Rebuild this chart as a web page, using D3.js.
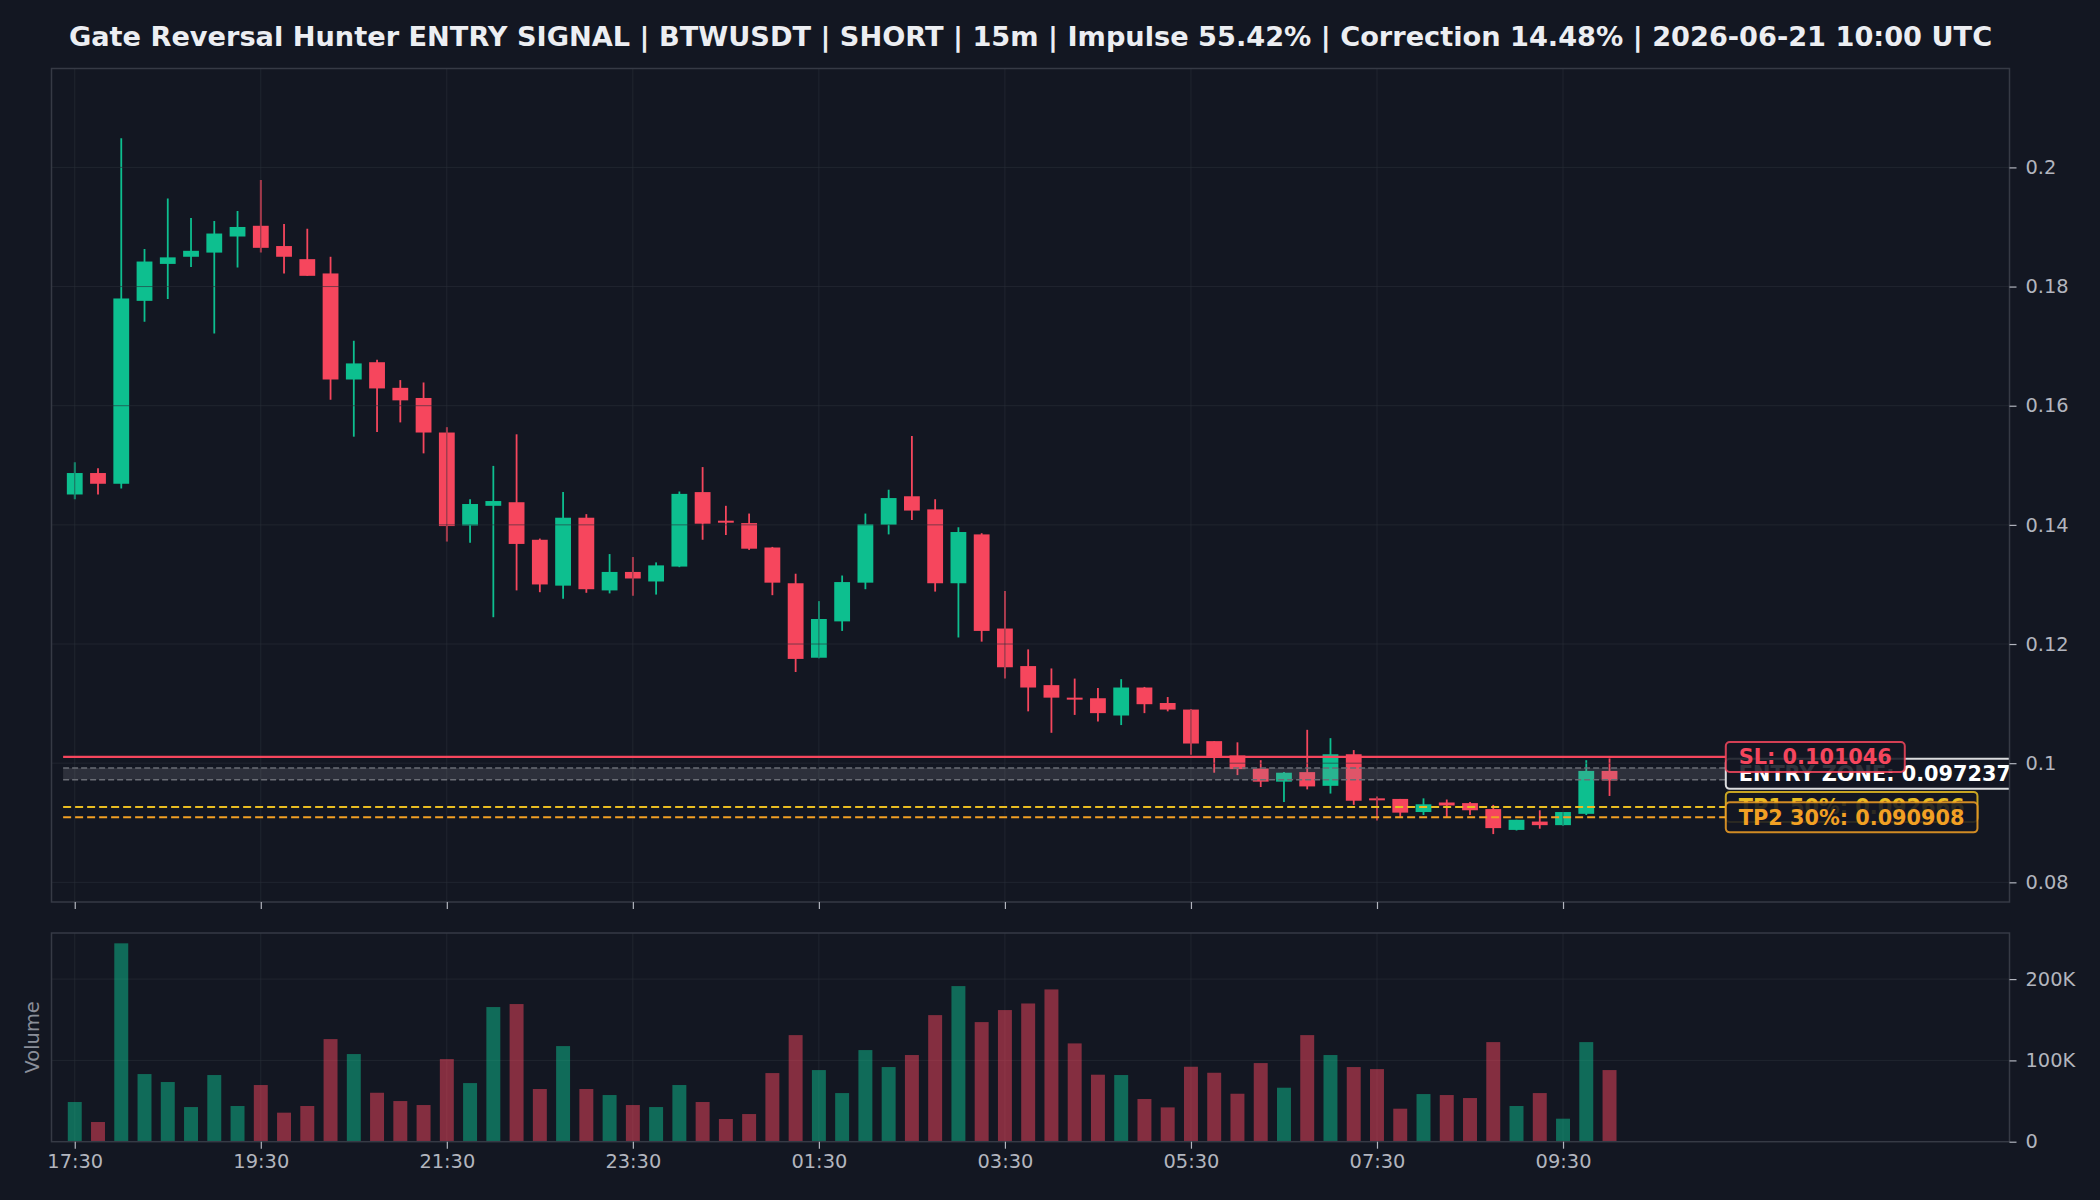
<!DOCTYPE html>
<html>
<head>
<meta charset="utf-8">
<script src="https://cdn.jsdelivr.net/npm/d3@7/dist/d3.min.js"></script>
<style>
body { margin: 0; background: #131722; }
svg text { font-family: "DejaVu Sans", sans-serif; }
</style>
</head>
<body>
<div class="svg-container"></div>
<script>
// ---- data ----
var title_text = "Gate Reversal Hunter ENTRY SIGNAL | BTWUSDT | SHORT | 15m | Impulse 55.42% | Correction 14.48% | 2026-06-21 10:00 UTC";

var opens  = [0.1451,0.1487,0.1469,0.1776,0.1838,0.1850,0.1857,0.1884,0.1902,0.1868,
              0.1846,0.1822,0.1644,0.1673,0.1630,0.1613,0.1555,0.1399,0.1432,0.1438,
              0.1375,0.1298,0.1412,0.1290,0.1321,0.1305,0.1330,0.1455,0.1407,0.1403,
              0.1362,0.1302,0.1177,0.1238,0.1303,0.1400,0.1448,0.1426,0.1302,0.1384,
              0.1226,0.1163,0.1131,0.1110,0.1109,0.1080,0.1127,0.1101,0.1090,0.1037,
              0.1013,0.0991,0.0969,0.0985,0.0962,0.1015,0.0941,0.0940,0.0918,0.0934,
              0.0933,0.0923,0.0888,0.0902,0.0896,0.0915,0.0987];
var highs  = [0.1505,0.1495,0.2049,0.1863,0.1948,0.1915,0.1910,0.1927,0.1979,0.1905,
              0.1897,0.1850,0.1709,0.1677,0.1643,0.1639,0.1564,0.1443,0.1499,0.1552,
              0.1377,0.1455,0.1418,0.1351,0.1346,0.1337,0.1456,0.1497,0.1432,0.1419,
              0.1363,0.1318,0.1272,0.1315,0.1419,0.1459,0.1549,0.1443,0.1396,0.1386,
              0.1289,0.1191,0.1159,0.1142,0.1126,0.1141,0.1128,0.1111,0.1091,0.1037,
              0.1035,0.1005,0.0985,0.1056,0.1042,0.1022,0.0944,0.0940,0.0941,0.0939,
              0.0935,0.0930,0.0905,0.0921,0.0918,0.1005,0.1008];
var lows   = [0.1443,0.1451,0.1461,0.1741,0.1779,0.1833,0.1721,0.1832,0.1857,0.1822,
              0.1818,0.1610,0.1548,0.1556,0.1572,0.1520,0.1372,0.1370,0.1245,0.1290,
              0.1287,0.1276,0.1286,0.1285,0.1281,0.1283,0.1329,0.1375,0.1383,0.1358,
              0.1282,0.1153,0.1176,0.1222,0.1292,0.1384,0.1408,0.1288,0.1211,0.1204,
              0.1142,0.1087,0.1051,0.1081,0.1070,0.1064,0.1084,0.1087,0.1014,0.0984,
              0.0980,0.0960,0.0935,0.0956,0.0949,0.0930,0.0904,0.0909,0.0913,0.0909,
              0.0913,0.0881,0.0887,0.0890,0.0895,0.0913,0.0945];
var closes = [0.1487,0.1469,0.1780,0.1842,0.1849,0.1860,0.1889,0.1900,0.1865,0.1850,
              0.1818,0.1644,0.1671,0.1629,0.1609,0.1555,0.1398,0.1435,0.1440,0.1368,
              0.1300,0.1412,0.1292,0.1321,0.1310,0.1332,0.1452,0.1402,0.1404,0.1360,
              0.1303,0.1175,0.1242,0.1304,0.1401,0.1445,0.1424,0.1302,0.1388,0.1222,
              0.1161,0.1127,0.1110,0.1107,0.1084,0.1127,0.1099,0.1090,0.1033,0.1011,
              0.0990,0.0969,0.0984,0.0961,0.1015,0.0937,0.0938,0.0917,0.0931,0.0929,
              0.0921,0.0891,0.0905,0.0896,0.0918,0.0987,0.0971];
var volumes = [48800,24200,244000,83200,73400,42600,82000,43900,69700,35700,
               43900,126200,107800,60200,50000,45100,101600,72100,165600,169300,
               64800,117600,64800,57400,45100,42600,69700,48800,27900,34000,
               84400,131100,88100,59800,112700,91800,106600,155700,191400,147100,
               161900,170000,187300,120900,82400,82000,52500,42200,92200,84800,
               59000,96700,66400,131100,106600,91800,89300,40600,58600,57400,
               53700,122500,43900,59800,28300,122500,88100];

var time_labels = ["17:30","19:30","21:30","23:30","01:30","03:30","05:30","07:30","09:30"];
var candles_per_label = 8;
var price_ticks = [0.08, 0.10, 0.12, 0.14, 0.16, 0.18, 0.20];
var volume_ticks = [0, 100000, 200000];
var volume_tick_labels = ["0", "100K", "200K"];

var sl_price = 0.101046;
var entry_price = 0.097237;
var entry_zone_top = 0.09918;
var tp1_price = 0.092666;
var tp2_price = 0.090908;

// ---- look ----
var bg = "#131722",
    up_color = "#0dbf8f",
    down_color = "#f6465d",
    grid_color = "#2a2e39",
    border_color = "#363a45",
    tick_color = "#b2b5be",
    tp1_color = "#e9bd22",
    tp2_color = "#f2a024";

var fullWidth = 2100, fullHeight = 1200;
var main = {left: 51.5, right: 2009.5, top: 68.5, bottom: 902};
var vol  = {left: 51.5, right: 2009.5, top: 933, bottom: 1141.7};

var n = closes.length;

var svg = d3.select(".svg-container")
    .append("svg")
    .attr("width", fullWidth)
    .attr("height", fullHeight)
    .style("background", bg);

var x = d3.scaleLinear().domain([-1, 83.2]).range([main.left, main.right]);
var y = d3.scaleLinear().domain([0.0767, 0.2166]).range([main.bottom, main.top]);
var yv = d3.scaleLinear().domain([0, 256700]).range([vol.bottom, vol.top]);

var tick_idx = time_labels.map((d, i) => i * candles_per_label);
var candle_w = 0.68 * (x(1) - x(0));
var vol_w = 0.6 * (x(1) - x(0));

function is_up(i) { return closes[i] >= opens[i]; }

// title
svg.append("text")
    .attr("x", (main.left + main.right) / 2)
    .attr("y", 36)
    .attr("dy", "0.35em")
    .attr("text-anchor", "middle")
    .attr("font-size", 27.2)
    .attr("font-weight", "bold")
    .attr("fill", "#eceef2")
    .text(title_text);

// clip for the price panel
svg.append("clipPath").attr("id", "main-clip")
    .append("rect")
    .attr("x", main.left).attr("y", main.top)
    .attr("width", main.right - main.left).attr("height", main.bottom - main.top);

var g_main = svg.append("g").attr("clip-path", "url(#main-clip)");

// candles
var idx = d3.range(n);
g_main.selectAll("line.wick")
    .data(idx)
    .enter()
    .append("line")
    .attr("class", "wick")
    .attr("x1", d => x(d)).attr("x2", d => x(d))
    .attr("y1", d => y(highs[d])).attr("y2", d => y(lows[d]))
    .attr("stroke", d => is_up(d) ? up_color : down_color)
    .attr("stroke-width", 1.8);

g_main.selectAll("rect.body")
    .data(idx)
    .enter()
    .append("rect")
    .attr("class", "body")
    .attr("x", d => x(d) - candle_w / 2)
    .attr("width", candle_w)
    .attr("y", d => y(Math.max(opens[d], closes[d])))
    .attr("height", d => Math.max(2, Math.abs(y(opens[d]) - y(closes[d]))))
    .attr("fill", d => is_up(d) ? up_color : down_color);

// grid (drawn over the candles, faint)
g_main.selectAll("line.hgrid")
    .data(price_ticks)
    .enter()
    .append("line")
    .attr("x1", main.left).attr("x2", main.right)
    .attr("y1", d => y(d)).attr("y2", d => y(d))
    .attr("stroke", grid_color).attr("stroke-opacity", 0.6).attr("stroke-width", 1);
g_main.selectAll("line.vgrid")
    .data(tick_idx)
    .enter()
    .append("line")
    .attr("x1", d => x(d)).attr("x2", d => x(d))
    .attr("y1", main.top).attr("y2", main.bottom)
    .attr("stroke", grid_color).attr("stroke-opacity", 0.6).attr("stroke-width", 1);

// entry zone band
var level_start = -0.5, level_end = 71;
g_main.append("rect")
    .attr("x", x(level_start))
    .attr("width", x(level_end) - x(level_start))
    .attr("y", y(entry_zone_top))
    .attr("height", y(entry_price) - y(entry_zone_top))
    .attr("fill", "#8c8f96")
    .attr("fill-opacity", 0.22);
[entry_zone_top, entry_price].forEach(function(v) {
    g_main.append("line")
        .attr("x1", x(level_start)).attr("x2", x(level_end))
        .attr("y1", y(v)).attr("y2", y(v))
        .attr("stroke", "#6a6d75").attr("stroke-width", 1.5)
        .attr("stroke-dasharray", "6,3");
});

// stop loss
g_main.append("line")
    .attr("x1", x(level_start)).attr("x2", x(level_end))
    .attr("y1", y(sl_price)).attr("y2", y(sl_price))
    .attr("stroke", down_color).attr("stroke-width", 2.2);

// take profits
[[tp1_price, tp1_color], [tp2_price, tp2_color]].forEach(function(t) {
    g_main.append("line")
        .attr("x1", x(level_start)).attr("x2", x(level_end))
        .attr("y1", y(t[0])).attr("y2", y(t[0]))
        .attr("stroke", t[1]).attr("stroke-width", 2)
        .attr("stroke-dasharray", "8,4");
});

// level labels (entry label sits at the middle of the zone)
var labels = [
    {text: "ENTRY ZONE: " + entry_price, value: (entry_price + entry_zone_top) / 2, color: "#ffffff"},
    {text: "SL: " + sl_price, value: sl_price, color: down_color},
    {text: "TP1 50%: " + tp1_price, value: tp1_price, color: tp1_color},
    {text: "TP2 30%: " + tp2_price, value: tp2_price, color: tp2_color}
];
var pad = 13;
labels.forEach(function(l) {
    var g = g_main.append("g");
    var box = g.append("rect");
    var t = g.append("text")
        .attr("x", x(level_end) + pad)
        .attr("y", y(l.value))
        .attr("dy", "0.36em")
        .attr("font-size", 20.8)
        .attr("font-weight", "bold")
        .attr("fill", l.color)
        .text(l.text);
    var w = t.node().getComputedTextLength();
    box.attr("x", x(level_end))
        .attr("y", y(l.value) - 15)
        .attr("width", w + 2 * pad)
        .attr("height", 30)
        .attr("rx", 4)
        .attr("fill", bg).attr("fill-opacity", 0.88)
        .attr("stroke", l.color).attr("stroke-opacity", 0.85).attr("stroke-width", 2);
});

// price panel border + axes
svg.append("rect")
    .attr("x", main.left).attr("y", main.top)
    .attr("width", main.right - main.left).attr("height", main.bottom - main.top)
    .attr("fill", "none").attr("stroke", border_color).attr("stroke-width", 1.5);

var y_axis = svg.append("g")
    .attr("transform", "translate(" + main.right + ",0)")
    .call(d3.axisRight(y).tickValues(price_ticks).tickFormat(d => +d.toFixed(2)).tickSize(7).tickPadding(9));

var x_axis_main = svg.append("g")
    .attr("transform", "translate(0," + main.bottom + ")")
    .call(d3.axisBottom(x).tickValues(tick_idx).tickFormat("").tickSize(7));

// volume panel
svg.selectAll("line.vhgrid")
    .data(volume_ticks.slice(1))
    .enter()
    .append("line")
    .attr("x1", vol.left).attr("x2", vol.right)
    .attr("y1", d => yv(d)).attr("y2", d => yv(d))
    .attr("stroke", grid_color).attr("stroke-opacity", 0.6);
svg.selectAll("line.vvgrid")
    .data(tick_idx)
    .enter()
    .append("line")
    .attr("x1", d => x(d)).attr("x2", d => x(d))
    .attr("y1", vol.top).attr("y2", vol.bottom)
    .attr("stroke", grid_color).attr("stroke-opacity", 0.6);

svg.selectAll("rect.vol")
    .data(idx)
    .enter()
    .append("rect")
    .attr("class", "vol")
    .attr("x", d => x(d) - vol_w / 2)
    .attr("width", vol_w)
    .attr("y", d => yv(volumes[d]))
    .attr("height", d => yv(0) - yv(volumes[d]))
    .attr("fill", d => is_up(d) ? up_color : down_color)
    .attr("fill-opacity", 0.5);

svg.append("rect")
    .attr("x", vol.left).attr("y", vol.top)
    .attr("width", vol.right - vol.left).attr("height", vol.bottom - vol.top)
    .attr("fill", "none").attr("stroke", border_color).attr("stroke-width", 1.5);

var yv_axis = svg.append("g")
    .attr("transform", "translate(" + vol.right + ",0)")
    .call(d3.axisRight(yv).tickValues(volume_ticks)
        .tickFormat((d, i) => volume_tick_labels[i]).tickSize(7).tickPadding(9));

var x_axis = svg.append("g")
    .attr("transform", "translate(0," + vol.bottom + ")")
    .call(d3.axisBottom(x).tickValues(tick_idx)
        .tickFormat((d, i) => time_labels[i]).tickSize(7).tickPadding(6));

// axis styling
[y_axis, x_axis_main, yv_axis, x_axis].forEach(function(a) {
    a.select(".domain").remove();
    a.selectAll(".tick line").attr("stroke", tick_color).attr("stroke-width", 1.2);
    a.selectAll(".tick text")
        .attr("fill", tick_color)
        .attr("font-size", 19.4)
        .style("font-family", "DejaVu Sans");
});

svg.append("text")
    .attr("transform", "translate(32," + (vol.top + vol.bottom) / 2 + ") rotate(-90)")
    .attr("text-anchor", "middle")
    .attr("dy", "0.35em")
    .attr("font-size", 19.4)
    .attr("fill", "#8a8e99")
    .text("Volume");
</script>
</body>
</html>
